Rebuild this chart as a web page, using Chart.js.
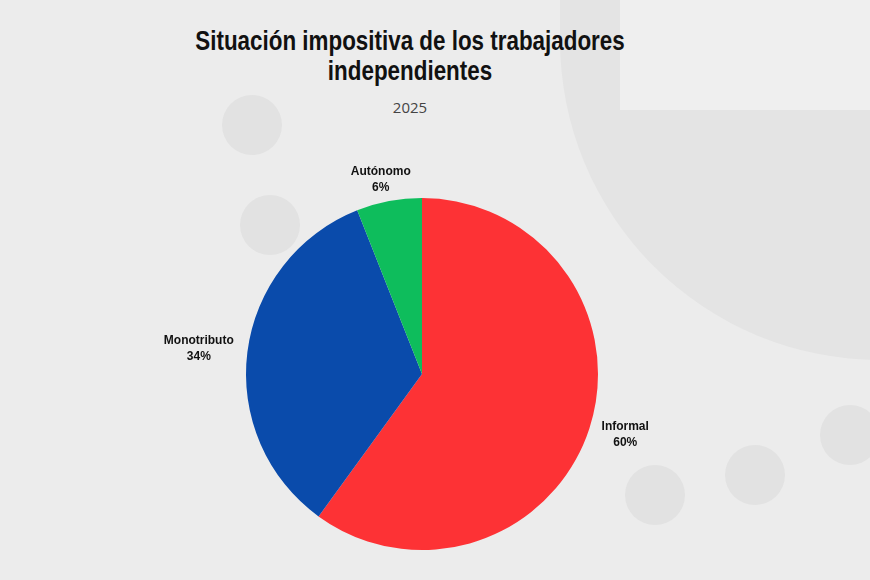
<!DOCTYPE html>
<html><head><meta charset="utf-8">
<script src="https://cdn.jsdelivr.net/npm/chart.js@4"></script>
<style>
html,body{margin:0;padding:0;}
body{width:870px;height:580px;background:#ececec;position:relative;overflow:hidden;font-family:"Liberation Sans",sans-serif;}
.deco{position:absolute;border-radius:50%;background:#e2e2e2;}
#t{position:absolute;left:0;width:820px;top:26px;text-align:center;font-weight:bold;font-size:28px;line-height:30px;color:#111;transform:scaleX(0.8);transform-origin:410px 0;}
#s{position:absolute;left:0;width:820px;top:97px;text-align:center;font-family:"Open Sans",sans-serif;font-size:15px;color:#444;}
canvas{position:absolute;left:0;top:0;}
</style></head><body>
<div class="deco" style="left:560px;top:-40px;width:320px;height:400px;background:#e4e4e4;border-radius:0 0 0 320px"></div>
<div style="position:absolute;left:620px;top:0;width:250px;height:110px;background:#efefef"></div>
<div class="deco" style="left:820px;top:405px;width:60px;height:60px"></div>
<div class="deco" style="left:725px;top:445px;width:60px;height:60px"></div>
<div class="deco" style="left:625px;top:465px;width:60px;height:60px"></div>
<div class="deco" style="left:240px;top:195px;width:60px;height:60px"></div>
<div class="deco" style="left:222px;top:95px;width:60px;height:60px"></div>
<div id="t">Situación impositiva de los trabajadores<br>independientes</div>
<div id="s">2025</div>
<canvas id="c" width="870" height="580"></canvas>
<script>
const categories=["Informal","Monotributo","Autónomo"];
const values=[60,34,6];
const colors=["#fd3235","#0a4bab","#0ebd5c"];
const labelPlugin={id:"lbl",afterDatasetsDraw(chart){
  const ctx=chart.ctx;
  chart.getDatasetMeta(0).data.forEach((arc,i)=>{
    const a=(arc.startAngle+arc.endAngle)/2, r=arc.outerRadius+14;
    ctx.save();
    ctx.font='bold 12px "Liberation Sans",sans-serif';
    const t1=categories[i], t2=values[i]+"%";
    const w=Math.max(ctx.measureText(t1).width,ctx.measureText(t2).width);
    let x=arc.x+Math.cos(a)*r, y=arc.y+Math.sin(a)*r;
    x+=Math.cos(a)*w/2; y+=Math.sin(a)*8;
    ctx.fillStyle="#111";ctx.textAlign="center";ctx.textBaseline="middle";
    ctx.fillText(t1,x,y-8);ctx.fillText(t2,x,y+8);
    ctx.restore();
  });
}};
new Chart(document.getElementById("c"),{type:"pie",
 data:{labels:categories,datasets:[{data:values,backgroundColor:colors,borderWidth:0}]},
 options:{responsive:false,animation:false,layout:{padding:{left:246,right:272,top:198,bottom:30}},
  plugins:{legend:{display:false},tooltip:{enabled:false}}},
 plugins:[labelPlugin]});
</script></body></html>
